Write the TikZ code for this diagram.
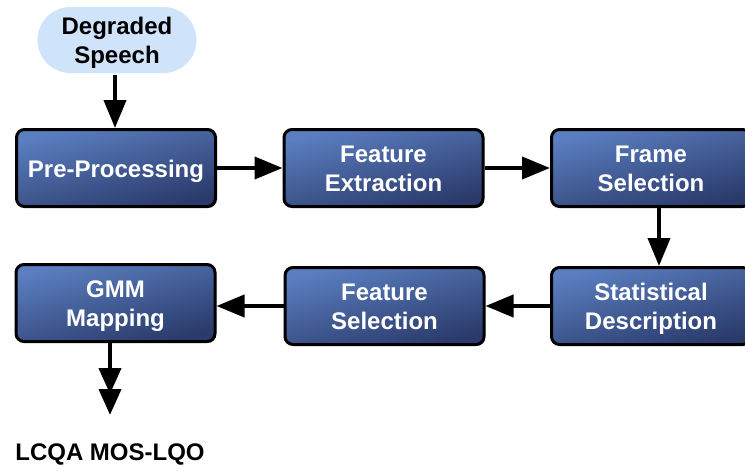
\documentclass[tikz,border=0pt]{standalone}
\usepackage{fontspec}
\setmainfont{Liberation Sans}
\usetikzlibrary{arrows.meta,shadows}

\definecolor{boxtop}{HTML}{5A7EC0}
\definecolor{boxbot}{HTML}{2A3A6A}
\definecolor{inputfill}{HTML}{CFE3FB}

% centred block of lines, set slightly low in its box (box size kept)
\newcommand{\boxlabel}[1]{\raisebox{-3.5pt}[\height][\depth]{\begin{tabular}{@{}c@{}}#1\end{tabular}}}

\tikzset{
  stagebox/.style={
    rounded corners=8pt, draw=black, line width=3pt,
    top color=boxtop, bottom color=boxbot, shading angle=15,
    drop shadow={shadow xshift=1.2pt, shadow yshift=-1.2pt, opacity=0.6, fill=black},
    minimum width=199pt, minimum height=77pt,
    text=white, inner sep=0pt,
    font=\fontsize{24}{29}\selectfont\bfseries},
  inputbox/.style={
    rounded corners=33pt, fill=inputfill,
    minimum width=159pt, minimum height=66pt,
    inner sep=0pt,
    font=\fontsize{24}{29}\selectfont\bfseries},
  outlabel/.style={font=\fontsize{24}{29}\selectfont\bfseries, inner sep=0pt},
  flow/.style={line width=4pt,
    -{Triangle[length=28pt,width=22pt]}},
  flowout/.style={line width=4pt,
    -{Triangle[length=26pt,width=22pt,sep=-5pt]Triangle[length=26pt,width=22pt]}}
}

\begin{document}
\begin{tikzpicture}[x=1pt,y=-1pt]
  \useasboundingbox (0,0) rectangle (745,471);
  \clip (0,0) rectangle (745,471);

  % input signal
  \node[inputbox] (input) at (117,40) {\boxlabel{Degraded\\Speech}};

  % processing stages, upper row
  \node[stagebox] (pre)   at (116,168)   {\boxlabel{Pre-Processing}};
  \node[stagebox] (fext)  at (383.5,168) {\boxlabel{Feature\\Extraction}};
  \node[stagebox] (frame) at (651,168)   {\boxlabel{Frame\\Selection}};

  % processing stages, lower row
  \node[stagebox] (stat)  at (651,306)   {\boxlabel{Statistical\\Description}};
  \node[stagebox] (fsel)  at (384.5,306) {\boxlabel{Feature\\Selection}};
  \node[stagebox] (gmm)   at (115.5,303) {\boxlabel{GMM\\Mapping}};

  % output
  \coordinate (out) at (110,415);
  \node[outlabel] (mos) at (110,454) {LCQA MOS-LQO};

  % connectors
  \draw[flow] ([xshift=-2pt,yshift=-2pt]input.south) -- ([xshift=-1pt]pre.north);
  \draw[flow] (pre.east) -- (fext.west);
  \draw[flow] (fext.east) -- (frame.west);
  \draw[flow] ([xshift=8pt]frame.south) -- ([xshift=8pt]stat.north);
  \draw[flow] (stat.west) -- (fsel.east);
  \draw[flow] (fsel.west) -- (gmm.east |- fsel.west);
  \draw[flowout] ([xshift=-5.5pt]gmm.south) -- (out);
\end{tikzpicture}
\end{document}
